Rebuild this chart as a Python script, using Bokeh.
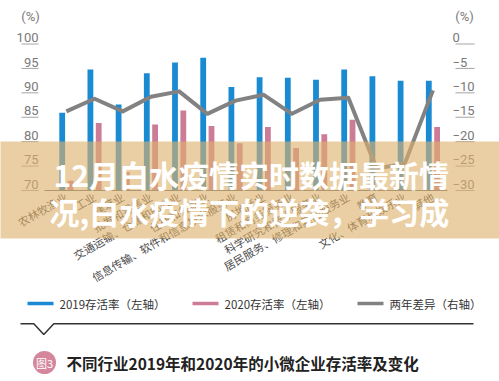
import numpy as np
from bokeh.plotting import figure
from bokeh.models import Range1d, LinearAxis, FixedTicker, ColumnDataSource
from bokeh.transform import dodge
from bokeh.core.properties import value
from bokeh.embed import file_html
from bokeh.resources import INLINE

# ---------------- data ----------------
categories = ["农林牧渔业", "工业", "建筑业", "批发和零售业", "交通运输、仓储和邮政业",
              "住宿和餐饮业", "信息传输、软件和信息技术服务业", "房地产业", "租赁和商务服务业",
              "科学研究和技术服务业", "居民服务、修理和其他服务业", "教育",
              "文化、体育和娱乐业", "其他"]
rate_2019 = [85.9, 94.8, 87.6, 94.0, 96.2, 97.2, 91.2, 93.2, 93.1, 92.7, 94.8, 93.4, 92.5, 92.5]
rate_2020 = [72.0, 83.8, 73.8, 83.5, 86.4, 83.2, 79.7, 83.0, 78.7, 81.5, 84.5, 67.9, 68.0, 83.0]
diff_two_years = [-13.8, -11.2, -13.8, -10.8, -9.7, -14.3, -11.6, -10.4, -14.3, -11.4, -11.0, -25.5, -24.5, -9.5]
left_ticks = [70, 75, 80, 85, 90, 95, 100]
right_ticks = [-30, -25, -20, -15, -10, -5, 0]
right_tick_labels = ["−30", "−25", "−20", "−15", "−10", "−5", "0"]
legend_labels = ["2019存活率（左轴）", "2020存活率（左轴）", "两年差异（右轴）"]
banner_lines = ["12月白水疫情实时数据最新情", "况,白水疫情下的逆袭，学习成"]
chart_title = "不同行业2019年和2020年的小微企业存活率及变化"
fig_tag = "图3"

BLUE = "#1a8ad2"
PINK = "#cc7c96"
GRAY = "#828282"
BASE = 70

# ------------- layout helpers (pixel -> data) -------------
PX0, PXS = 65.85, 28.2      # pixel of category 0 centre, pixels per category
PY0, PYS = 190.0, 4.883     # pixel of baseline (70), pixels per %
W, H = 499, 381


def X(px):
    return (px - PX0) / PXS


def Y(py):
    return BASE + (PY0 - py) / PYS


LAB_SHIFT = 6.3 / PYS

p = figure(width=W, height=H, x_range=Range1d(X(0), X(W)), y_range=Range1d(Y(H), Y(0)),
           x_axis_type=None, y_axis_type=None, toolbar_location=None,
           output_backend="svg", min_border=0)
p.outline_line_color = None
p.background_fill_color = "white"
p.border_fill_color = "white"
p.extra_y_ranges = {
    "diff": Range1d(Y(H) - 100, Y(0) - 100),
    "lab": Range1d(Y(H) - LAB_SHIFT, Y(0) - LAB_SHIFT),
    "difflab": Range1d(Y(H) - 100 - LAB_SHIFT, Y(0) - 100 - LAB_SHIFT),
}

n = len(categories)
src = ColumnDataSource(dict(
    x=list(range(n)),
    y19=np.maximum(np.array(rate_2019), BASE),
    y20=np.maximum(np.array(rate_2020), BASE),
    diff=diff_two_years,
))

OFF = 4.15 / PXS
BW = 5.8 / PXS
p.vbar(x=dodge("x", -OFF, range=p.x_range), top="y19", bottom=BASE, width=BW,
       source=src, fill_color=BLUE, line_color=None)
p.vbar(x=dodge("x", OFF, range=p.x_range), top="y20", bottom=BASE, width=BW,
       source=src, fill_color=PINK, line_color=None)
p.line(x="x", y="diff", source=src, y_range_name="diff", line_color=GRAY,
       line_width=4, line_join="round")

NUM_FONT = "'Liberation Sans Narrow', Roboto, sans-serif"
NUM_COLOR = "#7a7a7a"

# tick underlines (short rules under each tick label)
p.segment(x0=X(21), x1=X(38), y0=left_ticks, y1=left_ticks, line_color="#a5a5a5", line_width=1)
p.segment(x0=X(455), x1=X(474), y0=right_ticks, y1=right_ticks, y_range_name="diff",
          line_color="#a5a5a5", line_width=1)

# left axis labels
ll = LinearAxis(y_range_name="lab", ticker=FixedTicker(ticks=left_ticks), fixed_location=X(38),
                axis_line_color=None, major_tick_in=0, major_tick_out=0, minor_tick_out=0,
                major_tick_line_color=None, minor_tick_line_color=None,
                major_label_standoff=0, major_label_text_font=NUM_FONT,
                major_label_text_font_size="13px", major_label_text_color=NUM_COLOR)
p.add_layout(ll, "left")

# right axis labels
rl = LinearAxis(y_range_name="difflab", ticker=FixedTicker(ticks=right_ticks), fixed_location=X(452),
                axis_line_color=None, major_tick_in=0, major_tick_out=0, minor_tick_out=0,
                major_tick_line_color=None, minor_tick_line_color=None,
                major_label_standoff=0, major_label_text_font=NUM_FONT,
                major_label_text_font_size="13px", major_label_text_color=NUM_COLOR,
                major_label_overrides={t: s for t, s in zip(right_ticks, right_tick_labels)})
p.add_layout(rl, "right")

# category axis
xa = LinearAxis(ticker=FixedTicker(ticks=list(range(n))), fixed_location=BASE,
                bounds=(X(44), X(447)), axis_line_color="#6a6a6a", axis_line_width=1,
                major_tick_line_color=None, minor_tick_line_color=None,
                major_tick_out=0, major_tick_in=0,
                major_label_overrides={i: c for i, c in enumerate(categories)},
                major_label_orientation=np.pi / 6, major_label_standoff=5,
                major_label_text_font="Noto Sans CJK SC", major_label_text_font_size="11px",
                major_label_text_color="#4a4a4a")
p.add_layout(xa, "below")

# (%) unit labels
p.text(x=[X(30), X(464)], y=[Y(16), Y(16)], text=["(%)", "(%)"], text_align="center",
       text_baseline="middle", text_font=value(NUM_FONT), text_font_size="13px",
       text_color=NUM_COLOR)

# overlay banner with headline
p.quad(left=X(0), right=X(W), bottom=Y(238), top=Y(141), fill_color="#dfb16c",
       fill_alpha=0.62, line_color=None, level="annotation")
p.text(x=[X(53), X(49)], y=[Y(173), Y(210)], text=banner_lines, text_align="left",
       text_baseline="middle", text_font=value("Noto Sans CJK SC"), text_font_style="bold",
       text_font_size="30px", text_color="white", level="overlay")

# legend (manual, horizontal)
leg_x = [27, 192, 357]
leg_cols = [BLUE, PINK, GRAY]
p.segment(x0=[X(v) for v in leg_x], x1=[X(v + 26) for v in leg_x], y0=[Y(303)] * 3,
          y1=[Y(303)] * 3, line_color=leg_cols, line_width=3.5)
p.text(x=[X(v + 32) for v in leg_x], y=[Y(303.5)] * 3, text=legend_labels,
       text_baseline="middle", text_font=value("Noto Sans CJK SC"),
       text_font_size="11.5px", text_color="#333333")

# separator with notch
p.line(x=[X(v) for v in [20, 33.3, 43.3, 53.3, 473]],
       y=[Y(v) for v in [323.3, 323.3, 334, 323.3, 323.3]],
       line_color="#333333", line_width=1.5)

# figure tag + title
p.scatter(x=[X(44)], y=[Y(362)], marker="circle", size=23, fill_color="#d4869c",
          line_color=None)
p.text(x=[X(44)], y=[Y(362)], text=[fig_tag], text_align="center", text_baseline="middle",
       text_font=value("Noto Sans CJK SC"), text_font_size="11px", text_color="white")
p.text(x=[X(66)], y=[Y(362)], text=[chart_title], text_baseline="middle",
       text_font=value("Noto Sans CJK SC"), text_font_style="bold",
       text_font_size="15.5px", text_color="#222222")

open("out.html", "w").write(file_html(p, INLINE))
